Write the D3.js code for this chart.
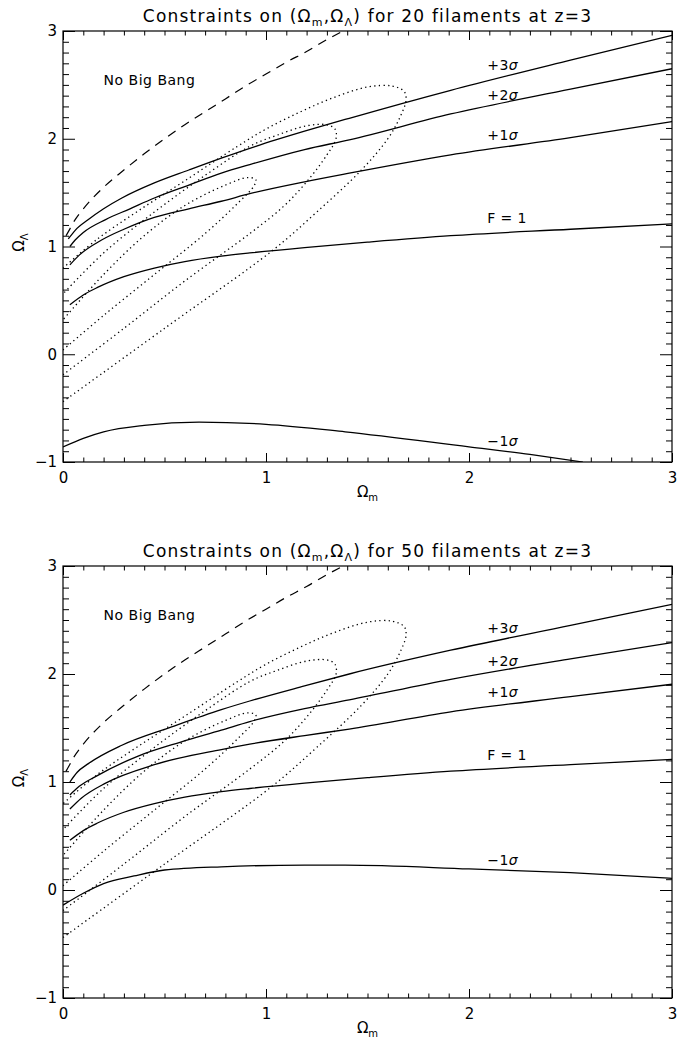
<!DOCTYPE html>
<html>
<head>
<meta charset="utf-8">
<script src="https://cdn.jsdelivr.net/npm/d3@7"></script>
<style>
  body { margin: 0; background: #fff; }
  svg text { font-family: "DejaVu Sans", sans-serif; fill: #000; }
</style>
</head>
<body>
<svg id="chart" width="691" height="1041"></svg>
<script>
// tick values
var omegaMTicks = [0, 1, 2, 3];
var omegaLTicks = [-1, 0, 1, 2, 3];

// "No Big Bang" boundary (dashed)
var noBigBang = [[0.015,1.10],[0.03,1.15],[0.05,1.22],[0.1,1.35],[0.2,1.55],[0.3,1.71],[0.4,1.86],
  [0.5,2.0],[0.6,2.13],[0.7,2.25],[0.8,2.37],[0.9,2.49],[1.0,2.6],[1.1,2.71],[1.2,2.81],[1.3,2.92],[1.38,3.0]];

// dotted confidence contours (same in both panels)
var contourInner = [[0,0.04],[0.2,0.36],[0.45,0.74],[0.7,1.12],[0.86,1.4],[0.94,1.56],[0.95,1.62],
  [0.91,1.64],[0.8,1.57],[0.6,1.38],[0.4,1.1],[0.2,0.74],[0,0.32]];
var contourMiddle = [[0,-0.19],[0.3,0.24],[0.6,0.68],[0.92,1.12],[1.085,1.37],[1.2,1.6],[1.3,1.85],
  [1.345,2.0],[1.34,2.09],[1.3,2.13],[1.2,2.12],[1.05,2.03],[0.92,1.93],[0.7,1.66],[0.45,1.32],[0.2,0.94],[0,0.56]];
var contourOuter = [[0,-0.44],[0.5,0.24],[1.03,0.96],[1.25,1.32],[1.47,1.71],[1.6,2.0],[1.66,2.2],
  [1.69,2.36],[1.68,2.44],[1.62,2.49],[1.5,2.48],[1.33,2.38],[1.17,2.25],[1.0,2.09],[0.86,1.93],
  [0.6,1.61],[0.37,1.33],[0.17,1.07],[0,0.8]];

// F = 1 curve (same in both panels)
var fOne = [[0.034,0.46],[0.1,0.55],[0.17,0.62],[0.3,0.72],[0.45,0.8],[0.6,0.86],[0.78,0.91],
  [0.92,0.94],[1.19,0.99],[1.5,1.04],[1.91,1.1],[2.5,1.16],[3,1.21]];

// 20 filaments
var plus3s20 = [[0.026,1.07],[0.06,1.15],[0.125,1.25],[0.2,1.35],[0.29,1.45],[0.45,1.59],[0.62,1.71],
  [0.78,1.82],[0.95,1.93],[1.19,2.07],[1.41,2.19],[1.91,2.45],[2.5,2.73],[3,2.96]];
var plus2s20 = [[0.034,1.0],[0.06,1.06],[0.1,1.13],[0.21,1.25],[0.33,1.35],[0.45,1.45],[0.62,1.57],
  [0.78,1.68],[0.92,1.76],[1.19,1.9],[1.41,1.99],[1.91,2.23],[2.5,2.46],[3,2.65]];
var plus1s20 = [[0.034,0.83],[0.08,0.92],[0.19,1.06],[0.3,1.16],[0.45,1.27],[0.62,1.35],[0.78,1.42],
  [0.92,1.49],[1.19,1.6],[1.41,1.68],[1.91,1.85],[2.5,2.01],[3,2.16]];
var minus1s20 = [[0,-0.86],[0.1,-0.78],[0.2,-0.72],[0.4,-0.66],[0.67,-0.63],[1.0,-0.65],[1.39,-0.72],
  [2.0,-0.86],[2.3,-0.93],[2.56,-1.0]];

// 50 filaments
var plus3s50 = [[0.034,1.0],[0.07,1.09],[0.125,1.17],[0.29,1.34],[0.535,1.51],[0.78,1.67],[0.92,1.75],
  [1.19,1.89],[1.41,2.0],[1.91,2.22],[2.5,2.45],[3,2.645]];
var plus2s50 = [[0.034,0.88],[0.08,0.96],[0.16,1.05],[0.37,1.24],[0.58,1.37],[0.78,1.48],[0.92,1.56],
  [1.19,1.68],[1.41,1.76],[1.91,1.95],[2.5,2.14],[3,2.29]];
var plus1s50 = [[0.034,0.75],[0.09,0.85],[0.21,0.99],[0.45,1.16],[0.78,1.3],[0.92,1.35],[1.19,1.43],
  [1.41,1.49],[1.91,1.65],[2.5,1.79],[3,1.905]];
var minus1s50 = [[0,-0.14],[0.1,-0.03],[0.2,0.06],[0.35,0.13],[0.5,0.185],[0.78,0.215],[1.19,0.23],
  [1.39,0.23],[2.0,0.195],[2.5,0.16],[3,0.108]];

// curve labels: [text, sigma?, Omega_m, Omega_Lambda] (baseline anchor)
var labels20 = [["+3", true, 2.09, 2.64], ["+2", true, 2.09, 2.36], ["+1", true, 2.09, 1.99],
  ["F = 1", false, 2.09, 1.22], ["\u22121", true, 2.09, -0.85]];
var labels50 = [["+3", true, 2.09, 2.38], ["+2", true, 2.09, 2.07], ["+1", true, 2.09, 1.79],
  ["F = 1", false, 2.09, 1.2], ["\u22121", true, 2.09, 0.23]];

var svg = d3.select('#chart');
var left = 63, right = 672;

var panels = [
  { id: 'a', top: 31, bottom: 462, n: '20', curves: [plus3s20, plus2s20, plus1s20, fOne, minus1s20], labels: labels20 },
  { id: 'b', top: 566, bottom: 998, n: '50', curves: [plus3s50, plus2s50, plus1s50, fOne, minus1s50], labels: labels50 }
];

function richText(sel, parts, size, subSize) {
  // parts: [text, isSub]
  var shift = 0;
  parts.forEach(function(p){
    var t = sel.append('tspan').text(p[0]);
    var want = p[1] ? Math.round(size * 0.25) : 0;
    t.attr('dy', want - shift);
    if (p[1]) t.attr('font-size', subSize);
    shift = want;
  });
}

function tickAxis(g, axis) {
  g.call(axis);
  g.select('.domain').remove();
  g.selectAll('.tick line').attr('stroke', '#000').attr('stroke-width', 1);
  g.selectAll('text').attr('font-family', '"DejaVu Sans", sans-serif').attr('font-size', 15).attr('fill', '#000');
  g.attr('font-family', null).attr('font-size', null);
}

function drawPanel(p) {
  var x = d3.scaleLinear().domain([0, 3]).range([left, right]);
  var y = d3.scaleLinear().domain([-1, 3]).range([p.bottom, p.top]);
  var g = svg.append('g');
  var minorX = d3.range(0, 31).map(function(i){ return i / 10; }).filter(function(v){ return Math.round(v * 10) % 10 !== 0; });
  var minorY = d3.range(-10, 31).map(function(i){ return i / 10; }).filter(function(v){ return Math.round(v * 10) % 10 !== 0; });

  // minor ticks
  tickAxis(g.append('g').attr('transform', 'translate(0,' + p.bottom + ')'),
    d3.axisBottom(x).tickValues(minorX).tickSize(-4.5).tickFormat(''));
  tickAxis(g.append('g').attr('transform', 'translate(0,' + p.top + ')'),
    d3.axisTop(x).tickValues(minorX).tickSize(-4.5).tickFormat(''));
  tickAxis(g.append('g').attr('transform', 'translate(' + left + ',0)'),
    d3.axisLeft(y).tickValues(minorY).tickSize(-6).tickFormat(''));
  tickAxis(g.append('g').attr('transform', 'translate(' + right + ',0)'),
    d3.axisRight(y).tickValues(minorY).tickSize(-6).tickFormat(''));

  // major ticks + labels
  tickAxis(g.append('g').attr('transform', 'translate(0,' + p.bottom + ')'),
    d3.axisBottom(x).tickValues(omegaMTicks).tickSize(-9).tickPadding(10).tickFormat(d3.format('d')));
  tickAxis(g.append('g').attr('transform', 'translate(0,' + p.top + ')'),
    d3.axisTop(x).tickValues(omegaMTicks).tickSize(-9).tickFormat(''));
  tickAxis(g.append('g').attr('transform', 'translate(' + left + ',0)'),
    d3.axisLeft(y).tickValues(omegaLTicks).tickSize(-12).tickPadding(6).tickFormat(d3.format('d')));
  tickAxis(g.append('g').attr('transform', 'translate(' + right + ',0)'),
    d3.axisRight(y).tickValues(omegaLTicks).tickSize(-12).tickFormat(''));

  // frame
  g.append('rect').attr('x', left).attr('y', p.top).attr('width', right - left).attr('height', p.bottom - p.top)
    .attr('fill', 'none').attr('stroke', '#000').attr('stroke-width', 1.2);

  svg.append('clipPath').attr('id', 'clip' + p.id).append('rect')
    .attr('x', left).attr('y', p.top).attr('width', right - left).attr('height', p.bottom - p.top);
  var plot = g.append('g').attr('clip-path', 'url(#clip' + p.id + ')');

  var fnLine = d3.line().x(function(d){ return x(d[0]); }).y(function(d){ return y(d[1]); }).curve(d3.curveMonotoneX);
  var loopLine = d3.line().x(function(d){ return x(d[0]); }).y(function(d){ return y(d[1]); }).curve(d3.curveCatmullRom.alpha(0.5));

  [contourInner, contourMiddle, contourOuter].forEach(function(c){
    plot.append('path').attr('d', loopLine(c)).attr('fill', 'none').attr('stroke', '#000')
      .attr('stroke-width', 1.3).attr('stroke-dasharray', '1.3,3.3');
  });

  plot.append('path').attr('d', fnLine(noBigBang)).attr('fill', 'none').attr('stroke', '#000')
    .attr('stroke-width', 1.2).attr('stroke-dasharray', '9,7');

  p.curves.forEach(function(c){
    plot.append('path').attr('d', fnLine(c)).attr('fill', 'none').attr('stroke', '#000').attr('stroke-width', 1.3);
  });

  // curve labels
  p.labels.forEach(function(l){
    var t = g.append('text').attr('x', x(l[2])).attr('y', y(l[3])).attr('font-size', 14).attr('letter-spacing', 0.4);
    t.append('tspan').text(l[0]);
    if (l[1]) t.append('tspan').attr('font-style', 'italic').text('\u03c3');
  });

  g.append('text').attr('x', x(0.2)).attr('y', y(2.5)).attr('font-size', 14).attr('letter-spacing', 0.5).text('No Big Bang');

  // title
  var title = g.append('text').attr('x', (left + right) / 2).attr('y', p.top - 9)
    .attr('text-anchor', 'middle').attr('font-size', 17).attr('letter-spacing', 1.2);
  richText(title, [['Constraints on (\u03a9', false], ['m', true], [',\u03a9', false], ['\u039b', true],
    [') for ' + p.n + ' filaments at z=3', false]], 17, 11);

  // axis titles
  var xt = g.append('text').attr('x', (left + right) / 2).attr('y', p.bottom + 35)
    .attr('text-anchor', 'middle').attr('font-size', 15);
  richText(xt, [['\u03a9', false], ['m', true]], 15, 10);

  var yt = g.append('text').attr('transform', 'translate(24,' + ((p.top + p.bottom) / 2 - 4) + ') rotate(-90)')
    .attr('text-anchor', 'middle').attr('font-size', 15);
  richText(yt, [['\u03a9', false], ['\u039b', true]], 15, 10);
}

panels.forEach(drawPanel);
</script>
</body>
</html>
